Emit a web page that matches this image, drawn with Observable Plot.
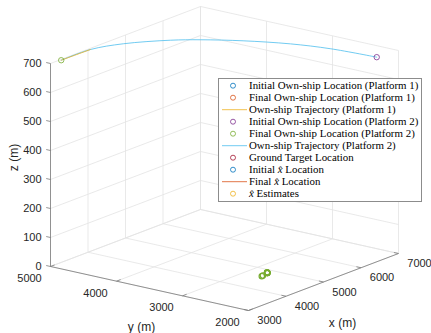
<!DOCTYPE html>
<html>
<head>
<meta charset="utf-8">
<script src="https://cdn.jsdelivr.net/npm/d3@7"></script>
<script src="https://cdn.jsdelivr.net/npm/@observablehq/plot@0.6"></script>
<style>
  html, body { margin: 0; padding: 0; background: #fff; overflow: hidden; }
  #wrap { position: relative; width: 431px; height: 333px; }
  #legend { position: absolute; left: 218px; top: 78px; }
</style>
</head>
<body>
<div id="wrap"><div id="chart"></div><div id="legend"></div></div>
<script>
// ---- axis limits & ticks ----
const xLim = [3000, 7000];
const yLim = [2000, 5000];
const zLim = [0, 700];
const xTicks = [3000, 4000, 5000, 6000, 7000];
const yTicks = [2000, 3000, 4000, 5000];
const zTicks = [0, 100, 200, 300, 400, 500, 600, 700];

// ---- Platform 2 own-ship trajectory (m) ----
const traj2X = [6490, 6410, 6230, 5900, 5530, 5210, 4590, 4010, 3250];
const traj2Y = [2040, 2690, 3200, 3730, 4160, 4440, 4800, 4970, 4980];
const traj2Z = [700, 700, 700, 700, 700, 700, 700, 700, 700];

// ---- Platform 1 own-ship trajectory (m) ----
const traj1X = [3250, 3600, 4010];
const traj1Y = [4980, 4976, 4970];
const traj1Z = [700, 700, 700];

// ---- x-hat estimates near the ground target (m) ----
const estX = [4650, 4690, 4845, 4855, 4862, 4850, 4858, 4868, 4842];
const estY = [2736, 2742, 2765, 2772, 2776, 2768, 2771, 2780, 2760];
const estZ = [0, 0, 0, 0, 0, 0, 0, 0, 0];

// ---- legend ----
const legendLabels = [
  "Initial Own-ship Location (Platform 1)",
  "Final Own-ship Location (Platform 1)",
  "Own-ship Trajectory (Platform 1)",
  "Initial Own-ship Location (Platform 2)",
  "Final Own-ship Location (Platform 2)",
  "Own-ship Trajectory (Platform 2)",
  "Ground Target Location",
  "Initial x\u0302 Location",
  "Final x\u0302 Location",
  "x\u0302 Estimates"
];
const legendKinds = ["o","o","-","o","o","-","o","o","-","o"];
const legendColors = ["#0072BD","#D95319","#EDB120","#7E2F8E","#77AC30","#4DBEEE","#A2142F","#0072BD","#D95319","#EDB120"];

// ---- orthographic 3-D view (MATLAB default view) ----
const origin = [248, 310];           // screen of (xLim[0], yLim[0], 0)
const ex = [0.0375, -0.01425];        // px per metre of x
const ey = [-0.066, -0.014667];       // px per metre of y
const ez = [0, -0.29];                // px per metre of z
function P(x, y, z) {
  const dx = x - xLim[0], dy = y - yLim[0];
  return [origin[0] + dx*ex[0] + dy*ey[0] + z*ez[0],
          origin[1] + dx*ex[1] + dy*ey[1] + z*ez[1]];
}
function seg(a, b) { const p = P(...a), q = P(...b); return {x1:p[0], y1:p[1], x2:q[0], y2:q[1]}; }

// grid lines: floor, back wall y = max, back wall x = max
const grid = [];
for (const x of xTicks) grid.push(seg([x, yLim[0], 0], [x, yLim[1], 0]));
for (const y of yTicks) grid.push(seg([xLim[0], y, 0], [xLim[1], y, 0]));
for (const x of xTicks) grid.push(seg([x, yLim[1], zLim[0]], [x, yLim[1], zLim[1]]));
for (const z of zTicks) grid.push(seg([xLim[0], yLim[1], z], [xLim[1], yLim[1], z]));
for (const y of yTicks) grid.push(seg([xLim[1], y, zLim[0]], [xLim[1], y, zLim[1]]));
for (const z of zTicks) grid.push(seg([xLim[1], yLim[0], z], [xLim[1], yLim[1], z]));

const axes = [
  seg([xLim[0], yLim[0], 0], [xLim[0], yLim[1], 0]),
  seg([xLim[0], yLim[0], 0], [xLim[1], yLim[0], 0]),
  seg([xLim[0], yLim[1], zLim[0]], [xLim[0], yLim[1], zLim[1]])
];
const ticks = [];
for (const x of xTicks) ticks.push(seg([x, yLim[0], 0], [x, yLim[0] + 70, 0]));
for (const y of yTicks) ticks.push(seg([xLim[0], y, 0], [xLim[0] + 110, y, 0]));
for (const z of zTicks) ticks.push(seg([xLim[0], yLim[1], z], [xLim[0], yLim[1] + 65, z]));

const xLab = xTicks.map(v => { const p = P(v, yLim[0], 0); return {x: p[0] + 21, y: p[1] + 10, t: String(v)}; });
const yLab = yTicks.map(v => { const p = P(xLim[0], v, 0); return {x: p[0] - 21, y: p[1] + 12, t: String(v)}; });
const zLab = zTicks.map(v => { const p = P(xLim[0], yLim[1], v); return {x: p[0] - 9, y: p[1], t: String(v)}; });

const t2 = traj2X.map((x, i) => P(x, traj2Y[i], traj2Z[i]));
const t1 = traj1X.map((x, i) => P(x, traj1Y[i], traj1Z[i]));
const est = estX.map((x, i) => P(x, estY[i], estZ[i]));
const init2 = t2[0], final2 = t2[t2.length - 1];

const font = "'Liberation Sans', Arial, Helvetica, sans-serif";
const chart = Plot.plot({
  width: 431, height: 333, margin: 0,
  x: {type: "identity", axis: null},
  y: {type: "identity", axis: null},
  style: {fontFamily: font, background: "#fff"},
  marks: [
    Plot.link(grid, {x1: "x1", y1: "y1", x2: "x2", y2: "y2", stroke: "#e3e3e3", strokeWidth: 0.8}),
    Plot.link(axes, {x1: "x1", y1: "y1", x2: "x2", y2: "y2", stroke: "#7a7a7a", strokeWidth: 0.8}),
    Plot.link(ticks, {x1: "x1", y1: "y1", x2: "x2", y2: "y2", stroke: "#7a7a7a", strokeWidth: 0.8}),
    Plot.text(xLab, {x: "x", y: "y", text: "t", fontSize: 11, fill: "#262626"}),
    Plot.text(yLab, {x: "x", y: "y", text: "t", fontSize: 11, fill: "#262626"}),
    Plot.text(zLab, {x: "x", y: "y", text: "t", fontSize: 11, fill: "#262626", textAnchor: "end"}),
    Plot.text(["x (m)"], {x: 342, y: 323, text: d => d, fontSize: 12, fill: "#262626"}),
    Plot.text(["y (m)"], {x: 141, y: 327, text: d => d, fontSize: 12, fill: "#262626"}),
    Plot.text(["z (m)"], {x: 14, y: 157, text: d => d, fontSize: 12, fill: "#262626", rotate: -90}),
    Plot.line(t2, {x: d => d[0], y: d => d[1], stroke: "#4DBEEE", strokeWidth: 0.8, curve: "catmull-rom"}),
    Plot.line(t1, {x: d => d[0], y: d => d[1], stroke: "#EDB120", strokeWidth: 0.8, curve: "catmull-rom"}),
    Plot.dot([init2], {x: d => d[0], y: d => d[1], r: 2.7, stroke: "#7E2F8E", strokeWidth: 0.8, fill: "none"}),
    Plot.dot([final2], {x: d => d[0], y: d => d[1], r: 2.7, stroke: "#77AC30", strokeWidth: 0.8, fill: "none"}),
    Plot.dot(est, {x: d => d[0], y: d => d[1], r: 2.7, stroke: "#77AC30", strokeWidth: 1.2, fill: "none"})
  ]
});
document.getElementById("chart").appendChild(chart);

// legend box
const LW = 204, LH = 124, rowH = 12, row0 = 7.7;
const svg = d3.select("#legend").append("svg").attr("width", LW).attr("height", LH);
svg.append("rect").attr("x", 0.5).attr("y", 0.5).attr("width", LW - 1).attr("height", LH - 1)
  .attr("fill", "#fff").attr("stroke", "#8c8c8c").attr("stroke-width", 1);
legendLabels.forEach((lab, i) => {
  const cy = row0 + i * rowH;
  const c = legendColors[i];
  if (legendKinds[i] === "o") {
    svg.append("circle").attr("cx", 15).attr("cy", cy).attr("r", 2.5)
      .attr("fill", "none").attr("stroke", c).attr("stroke-width", 0.8);
  } else {
    svg.append("line").attr("x1", 4).attr("x2", 29).attr("y1", cy).attr("y2", cy)
      .attr("stroke", c).attr("stroke-width", 0.8);
  }
  const t = svg.append("text").attr("x", 31).attr("y", cy).attr("dy", "0.33em")
    .attr("font-family", "'Liberation Serif', 'Times New Roman', serif").attr("font-size", 10.9).attr("fill", "#000");
  const k = lab.indexOf("x\u0302");
  if (k >= 0) {
    t.append("tspan").text(lab.slice(0, k));
    t.append("tspan").attr("font-style", "italic").text("x\u0302");
    t.append("tspan").text(lab.slice(k + 2));
  } else {
    t.text(lab);
  }
});
</script>
</body>
</html>
